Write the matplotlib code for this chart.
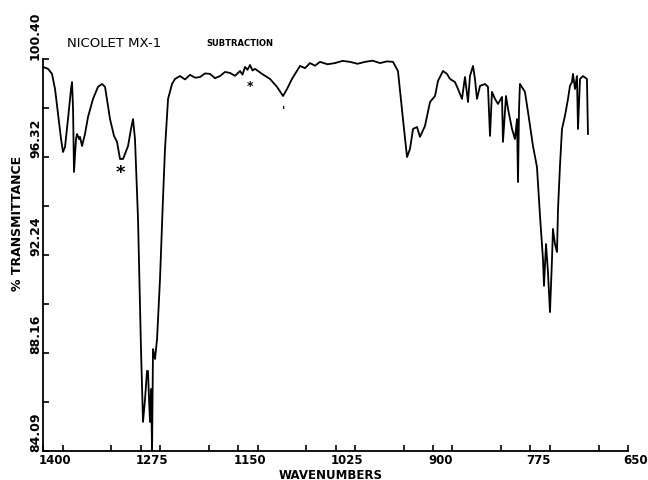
import matplotlib
matplotlib.use("Agg")
import matplotlib.pyplot as plt
from matplotlib.ticker import MultipleLocator
import matplotlib.transforms as mtransforms

# spectrum: wavenumber (cm-1) and % transmittance
wavenumber = [1400, 1393.6, 1388.5, 1384.6, 1380.8, 1376.9, 1374.4, 1371.8, 1368.0, 1364.1,
              1362.8, 1361.5, 1360.3, 1357.7, 1356.4, 1353.8, 1352.6, 1350.0, 1346.2, 1342.3,
              1335.9, 1329.5, 1324.4, 1320.5, 1314.1, 1309.0, 1305.1, 1301.3, 1297.4, 1291.0,
              1287.2, 1284.6, 1282.1, 1278.2, 1274.4, 1271.8, 1269.2, 1266.7, 1265.4, 1264.1,
              1262.8, 1261.5, 1260.2, 1259.0, 1256.4, 1253.8, 1250.0, 1246.2, 1243.6, 1239.7,
              1234.6, 1230.8, 1224.4, 1218.0, 1211.5, 1205.0, 1198.7, 1192.3, 1185.9, 1179.5,
              1173.1, 1166.7, 1160.3, 1153.8, 1147.4, 1144.2, 1141.0, 1137.8, 1134.6, 1131.4,
              1128.2, 1119.2, 1109.0, 1100.0, 1092.3, 1087.2, 1080.8, 1070.5, 1064.1, 1057.7,
              1051.3, 1044.9, 1035.3, 1025.6, 1016.0, 1006.4, 996.8, 987.2, 977.5, 967.9,
              959.0, 951.3, 944.9, 938.5, 933.3, 929.5, 925.6, 920.5, 916.7, 910.3,
              903.8, 897.4, 893.6, 887.2, 882.1, 878.2, 871.8, 867.9, 862.8, 859.0,
              855.1, 852.6, 848.7, 846.2, 843.6, 839.7, 833.3, 829.5, 826.9, 824.4,
              820.5, 816.7, 811.5, 810.3, 806.4, 803.8, 798.7, 794.9, 792.3, 791.0,
              789.7, 788.5, 782.1, 778.2, 771.8, 766.7, 762.8, 759.0, 757.7, 755.1,
              752.6, 750.0, 747.4, 746.2, 743.6, 741.0, 739.7, 737.2, 734.6, 730.8,
              726.9, 724.4, 721.8, 720.5, 717.9, 715.4, 714.1, 711.5, 707.7, 702.6,
              701.3]
transmittance = [100.07, 99.99, 99.78, 99.15, 98.11, 97.07, 96.53, 96.74, 97.90, 99.15,
                 99.44, 98.32, 95.70, 97.07, 97.28, 97.07, 97.16, 96.78, 97.28, 97.99,
                 98.74, 99.24, 99.36, 99.24, 97.90, 97.20, 96.95, 96.24, 96.24, 96.78,
                 97.49, 97.90, 97.07, 93.74, 88.33, 85.30, 86.25, 87.42, 87.42, 86.25,
                 85.30, 86.67, 84.09, 88.33, 87.92, 88.75, 91.25, 94.58, 96.66, 98.74,
                 99.36, 99.57, 99.69, 99.55, 99.74, 99.62, 99.65, 99.80, 99.78, 99.60,
                 99.69, 99.86, 99.82, 99.70, 99.90, 99.75, 100.07, 99.95, 100.15, 99.92,
                 99.99, 99.78, 99.57, 99.24, 98.86, 99.15, 99.57, 100.11, 100.02, 100.23,
                 100.12, 100.28, 100.18, 100.23, 100.32, 100.28, 100.20, 100.28, 100.33, 100.23,
                 100.30, 100.28, 99.90, 97.90, 96.32, 96.66, 97.49, 97.57, 97.16, 97.61,
                 98.61, 98.86, 99.49, 99.90, 99.78, 99.57, 99.44, 99.15, 98.74, 99.65,
                 98.61, 99.69, 100.11, 99.57, 98.74, 99.28, 99.36, 99.24, 97.20, 99.03,
                 98.74, 98.53, 98.82, 96.95, 98.86, 98.32, 97.49, 97.07, 97.90, 95.28,
                 98.32, 99.36, 99.03, 98.20, 96.78, 95.91, 93.87, 92.08, 90.96, 92.70,
                 91.54, 89.87, 92.08, 93.33, 92.70, 92.37, 94.16, 95.95, 97.49, 98.03,
                 98.74, 99.28, 99.44, 99.78, 99.15, 99.69, 97.49, 99.57, 99.69, 99.57,
                 97.28]

x_ticks = [1400, 1275, 1150, 1025, 900, 775, 650]
y_ticks = [84.09, 88.16, 92.24, 96.32, 100.40]
y_labels = ["84.09", "88.16", "92.24", "96.32", "100.40"]

fig = plt.figure(figsize=(6.48, 4.81), dpi=100)
ax = fig.add_axes([0.0664, 0.0603, 0.9027, 0.8150])

ax.plot(wavenumber, transmittance, color="black", lw=1.3)

ax.set_xlim(1400, 650)
ax.set_ylim(84.09, 100.40)
for side in ("top", "right"):
    ax.spines[side].set_visible(False)
for side in ("left", "bottom"):
    ax.spines[side].set_linewidth(1.3)

ax.set_xticks(x_ticks)
ax.set_xticklabels([])
ax.xaxis.set_minor_locator(MultipleLocator(62.5))
ax.set_yticks(y_ticks)
ax.set_yticklabels([])
ax.set_yticks([(a + b) / 2 for a, b in zip(y_ticks[:-1], y_ticks[1:])], minor=True)
ax.tick_params(which="both", direction="in", length=4, width=1.2)

font = dict(family="DejaVu Sans", fontweight="bold", color="black")

# x tick labels start just left of their tick
xt = mtransforms.blended_transform_factory(ax.transData, ax.transAxes)
for v in x_ticks:
    ax.text(v + 6, -0.006, str(v), transform=xt, ha="left", va="top", fontsize=8.5,
            **font)

# y tick labels rotated, starting at their tick
yt = mtransforms.blended_transform_factory(ax.transAxes, ax.transData)
for v, s in zip(y_ticks, y_labels):
    ax.text(-0.013, v, s, transform=yt, rotation=90, ha="center", va="bottom",
            fontsize=9, **font)

fig.text(0.027, 0.535, "% TRANSMITTANCE", rotation=90, ha="center", va="center",
         fontsize=9, **font)
fig.text(0.511, 0.012, "WAVENUMBERS", ha="center", va="center", fontsize=8.5, **font)

fig.text(0.103, 0.909, "NICOLET MX-1", ha="left", va="center", fontsize=9.5,
         family="DejaVu Sans")
fig.text(0.319, 0.909, "SUBTRACTION", ha="left", va="center", fontsize=6,
         fontweight="bold", family="DejaVu Sans")

# band markers
ax.text(1301, 95.7, "*", ha="center", va="center", fontsize=13, **font)
ax.text(1135, 99.3, "*", ha="center", va="center", fontsize=9, **font)
ax.text(1092, 98.3, "'", ha="center", va="center", fontsize=8, **font)

fig.savefig("out.png", dpi=100)
